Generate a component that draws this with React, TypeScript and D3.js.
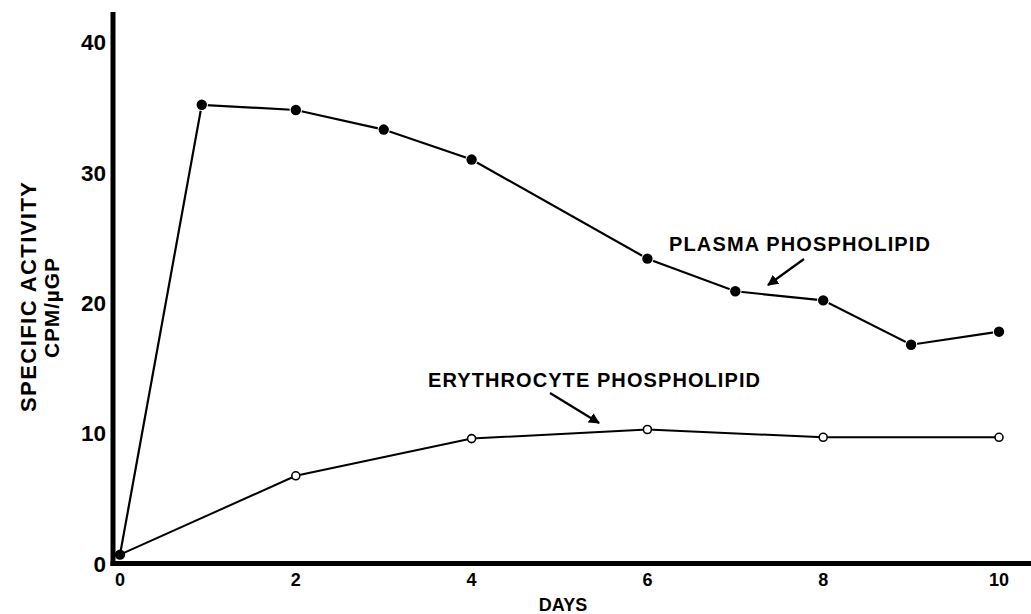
import React from "react";
import * as d3 from "d3";

const plasmaDays = [0, 0.93, 2, 3, 4, 6, 7, 8, 9, 10];
const plasmaValues = [0.7, 35.2, 34.8, 33.3, 31.0, 23.4, 20.9, 20.2, 16.8, 17.8];
const erythDays = [0, 2, 4, 6, 8, 10];
const erythValues = [0.7, 6.75, 9.6, 10.3, 9.7, 9.7];
const xTicks = [0, 2, 4, 6, 8, 10];
const yTicks = [0, 10, 20, 30, 40];

const W = 1031;
const H = 614;
const FONT = "'Liberation Sans', Arial, sans-serif";

export default function App() {
  const x = d3.scaleLinear().domain([0, 10]).range([120, 999]);
  const y = d3.scaleLinear().domain([0, 40]).range([563.8, 42.2]);
  const line = d3
    .line<[number, number]>()
    .x((d) => x(d[0]))
    .y((d) => y(d[1]));
  const plasma: [number, number][] = plasmaDays.map((d, i) => [d, plasmaValues[i]]);
  const eryth: [number, number][] = erythDays.map((d, i) => [d, erythValues[i]]);

  return (
    <svg
      width={W}
      height={H}
      style={{ position: "absolute", left: 0, top: 0, background: "#fff" }}
    >
      <defs>
        <marker id="ah" viewBox="0 0 10 10" refX="9" refY="5" markerWidth="5" markerHeight="5" orient="auto">
          <path d="M0,0 L10,5 L0,10 z" fill="#000" />
        </marker>
      </defs>
      <rect width={W} height={H} fill="#fff" />
      {/* data lines */}
      <path d={line(plasma) || ""} fill="none" stroke="#000" strokeWidth={2.2} />
      <path d={line(eryth) || ""} fill="none" stroke="#000" strokeWidth={2} />
      {/* axes */}
      <line x1={113} y1={12} x2={113} y2={566} stroke="#000" strokeWidth={5} />
      <line x1={110.5} y1={563.5} x2={1031} y2={563.5} stroke="#000" strokeWidth={5} />
      {/* markers */}
      {plasma.map((d, i) => (
        <circle key={"p" + i} cx={x(d[0])} cy={y(d[1])} r={5.2} fill="#000" stroke="#fff" strokeWidth={i === 0 ? 0 : 2} paintOrder="stroke" />
      ))}
      {eryth.map((d, i) =>
        i === 0 ? null : (
          <circle key={"e" + i} cx={x(d[0])} cy={y(d[1])} r={4} fill="#fff" stroke="#000" strokeWidth={1.6} />
        )
      )}
      {/* y tick labels */}
      {yTicks.map((t) => (
        <text
          key={"y" + t}
          x={106}
          y={y(t) + 8}
          textAnchor="end"
          fontFamily={FONT}
          fontWeight="bold"
          fontSize={22.5}
        >
          {t}
        </text>
      ))}
      {/* x tick labels */}
      {xTicks.map((t) => (
        <text
          key={"x" + t}
          x={x(t)}
          y={586}
          textAnchor="middle"
          fontFamily={FONT}
          fontWeight="bold"
          fontSize={18}
        >
          {t}
        </text>
      ))}
      <text x={563} y={611} textAnchor="middle" fontFamily={FONT} fontWeight="bold" fontSize={18}>
        DAYS
      </text>
      {/* y axis title */}
      <text
        transform="translate(36,297) rotate(-90)"
        textAnchor="middle"
        fontFamily={FONT}
        fontWeight="bold"
        fontSize={22}
        textLength={230}
        lengthAdjust="spacing"
      >
        SPECIFIC ACTIVITY
      </text>
      <text
        transform="translate(59,308) rotate(-90)"
        textAnchor="middle"
        fontFamily={FONT}
        fontWeight="bold"
        fontSize={21}
        textLength={100}
        lengthAdjust="spacing"
      >
        CPM/µGP
      </text>
      {/* annotations */}
      <text x={669} y={250.5} fontFamily={FONT} fontWeight="bold" fontSize={20} textLength={261} lengthAdjust="spacing">
        PLASMA PHOSPHOLIPID
      </text>
      <line x1={804} y1={259} x2={768} y2={285} stroke="#000" strokeWidth={2.2} markerEnd="url(#ah)" />
      <text x={428} y={387} fontFamily={FONT} fontWeight="bold" fontSize={20} textLength={332} lengthAdjust="spacing">
        ERYTHROCYTE PHOSPHOLIPID
      </text>
      <line x1={550} y1={393} x2={599} y2={423} stroke="#000" strokeWidth={2.2} markerEnd="url(#ah)" />
    </svg>
  );
}
